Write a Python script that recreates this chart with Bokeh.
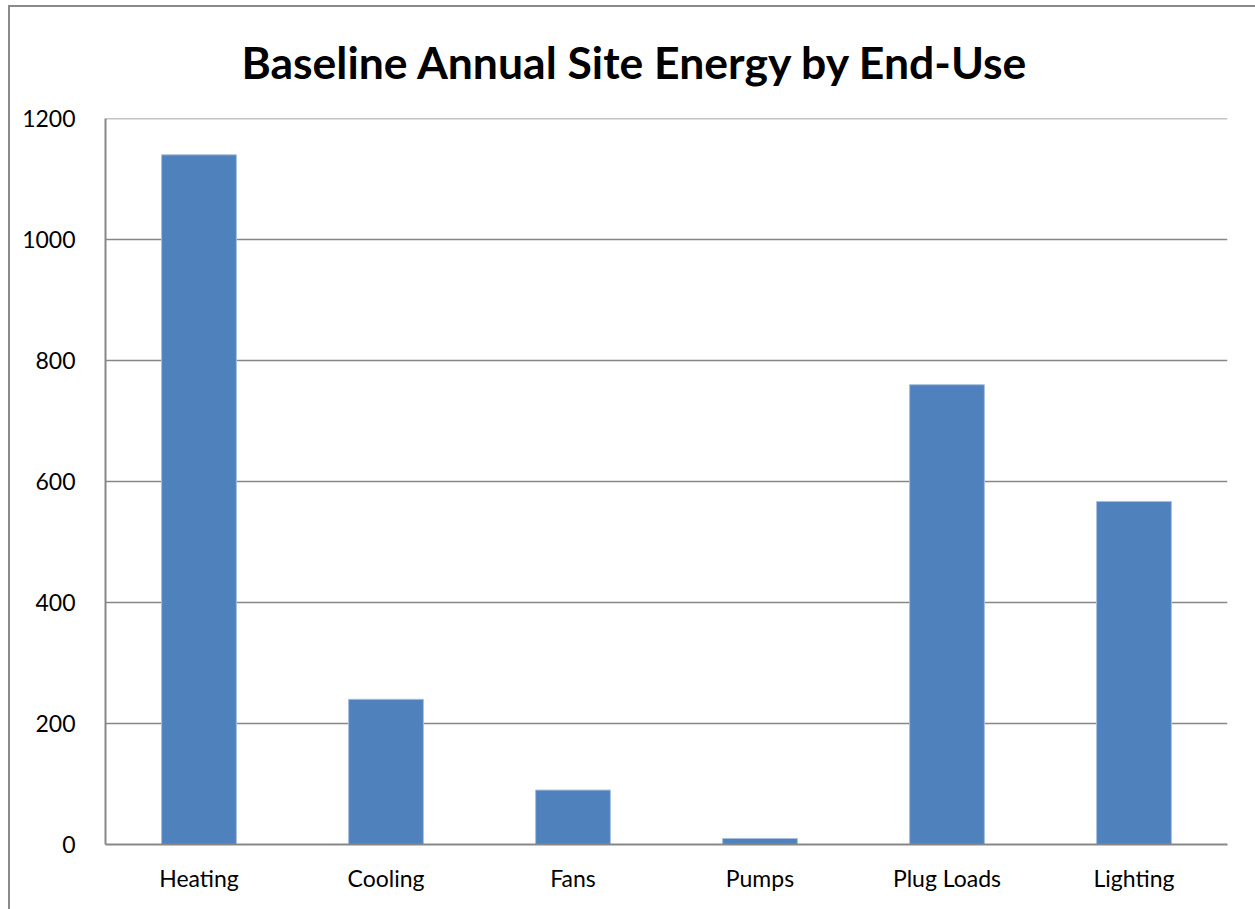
from bokeh.plotting import figure
from bokeh.layouts import column
from bokeh.models import ColumnDataSource, FactorRange, Span, SingleIntervalTicker
from bokeh.embed import file_html
from bokeh.resources import INLINE

categories = ["Heating", "Cooling", "Fans", "Pumps", "Plug Loads", "Lighting"]
values = [1140, 240, 90, 10, 760, 567]
title_text = "Baseline Annual Site Energy by End-Use"
y_max = 1200
y_step = 200

FONT = "Lato"
GRAY = "#878787"

src = ColumnDataSource(dict(cat=categories, val=values))

p = figure(
    x_range=FactorRange(*categories, range_padding=0),
    y_range=(0, y_max),
    width=1246, height=913,
    min_border_left=95, min_border_right=29, min_border_top=121, min_border_bottom=66,
    output_backend="svg", toolbar_location=None,
    title=title_text,
)
p.styles = {"margin-top": "-10px"}

p.vbar(x="cat", top="val", width=0.4, source=src,
       fill_color="#4F81BD", line_color="#A7BFDE", line_width=1)

p.outline_line_color = None
p.background_fill_color = "white"
p.border_fill_alpha = 0

p.yaxis.ticker = SingleIntervalTicker(interval=y_step)
p.ygrid.ticker = SingleIntervalTicker(interval=y_step)
p.xgrid.grid_line_color = None
p.ygrid.grid_line_color = GRAY
p.ygrid.grid_line_width = 1.3
p.add_layout(Span(location=y_max, dimension="width", line_color=GRAY, line_width=1.3))

for ax in (p.xaxis, p.yaxis):
    ax.axis_line_color = GRAY
    ax.axis_line_width = 2
    ax.major_tick_line_color = None
    ax.minor_tick_line_color = None
    ax.major_label_text_font = FONT
    ax.major_label_text_font_size = "23px"
    ax.major_label_text_color = "black"
p.yaxis.major_label_standoff = 24
p.xaxis.major_label_standoff = 13

p.title.align = "left"
p.title.offset = 136
p.title.standoff = 62
p.title.text_font = FONT
p.title.text_font_size = "44.5px"
p.title.text_font_style = "bold"
p.title.text_color = "black"

layout = column(p, styles={"margin-left": "8px", "margin-top": "5px",
                           "border-left": "2px solid #8a8a8a",
                           "border-top": "2px solid #8a8a8a",
                           "background-color": "white"})

open("out.html", "w").write(file_html(layout, INLINE))
